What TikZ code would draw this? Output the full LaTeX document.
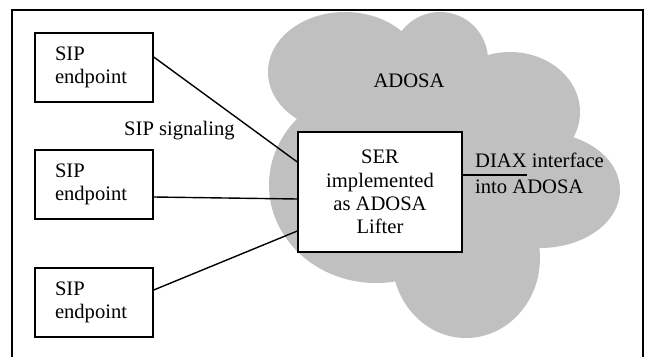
\documentclass[tikz,border=0pt]{standalone}
\usepackage{fontspec}
\setmainfont{Liberation Serif}
\definecolor{cloudgray}{HTML}{C0C0C0}
\begin{document}
\begin{tikzpicture}[x=1pt,y=-1pt,
  txt/.style={font=\fontsize{20.6}{23.3}\selectfont},
  lbl/.style={txt, inner sep=0pt},
  sipbox/.style={txt, draw, line width=1.4pt, minimum width=118pt, minimum height=69pt,
    text width=78pt, inner xsep=20pt, inner ysep=0pt, align=left},
  serbox/.style={txt, draw, fill=white, line width=1.4pt, minimum width=164pt,
    minimum height=120pt, inner sep=0pt, align=center},
  conn/.style={line width=1.4pt},
  lobe/.style={fill=cloudgray}]
\useasboundingbox (0,0) rectangle (645,356);
\clip (0,0) rectangle (645,356);
\fill[white] (0,0) rectangle (645,356);
\draw[line width=1.6pt] (12,10) rectangle (643,380);
% cloud
\fill[lobe] (345,72) ellipse [x radius=77pt, y radius=60pt];
\fill[lobe] (440,60) circle [radius=48pt];
\fill[lobe] (510,112) ellipse [x radius=70pt, y radius=60pt];
\fill[lobe] (540,190) ellipse [x radius=80pt, y radius=58pt];
\fill[lobe] (466,258) ellipse [x radius=74pt, y radius=80pt];
\fill[lobe] (376,185) ellipse [x radius=107pt, y radius=98pt];
\fill[lobe] (450,170) circle [radius=60pt];
% nodes
\node[sipbox] (b1) at (94,67.5) {SIP\\endpoint};
\node[sipbox] (b2) at (94,184.5) {SIP\\endpoint};
\node[sipbox] (b3) at (94,302.5) {SIP\\endpoint};
\node[serbox] (ser) at (380,192) {SER\\implemented\\as ADOSA\\Lifter};
\node[lbl, anchor=base] (adosa) at (409,87) {ADOSA};
\node[lbl, anchor=base west] (sig) at (124,135) {SIP signaling};
\node[lbl, anchor=base west] (diax1) at (475,167) {DIAX interface};
\node[lbl, anchor=base west] (diax2) at (475,193) {into ADOSA};
\coordinate (dend) at (527,175);
% connectors
\draw[conn] ([yshift=10.5pt]b1.east) -- ([yshift=30pt]ser.west);
\draw[conn] ([yshift=-12.5pt]b2.east) -- ([yshift=-7pt]ser.west);
\draw[conn] ([yshift=12.5pt]b3.east) -- ([yshift=-39pt]ser.west);
\draw[conn] ([yshift=17pt]ser.east) -- (dend);
\end{tikzpicture}
\end{document}
